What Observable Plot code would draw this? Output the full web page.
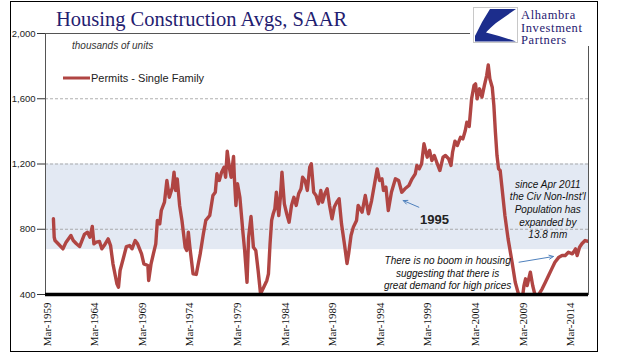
<!DOCTYPE html>
<html><head><meta charset="utf-8">
<script src="https://cdn.jsdelivr.net/npm/d3@7"></script>
<script src="https://cdn.jsdelivr.net/npm/@observablehq/plot@0.6"></script>
<style>
body{margin:0;background:#fff;}
#wrap{position:relative;width:618px;height:361px;overflow:hidden;background:#fff;}
#wrap > svg{position:absolute;left:0;top:0;}
#overlay{pointer-events:none;}
</style>
</head><body>
<div id="wrap">
<svg id="overlay" width="618" height="361" style="z-index:2">
  <rect x="10.5" y="1.5" width="587" height="350" fill="none" stroke="#000" stroke-width="1"/>
  <rect x="470" y="3" width="126" height="43" fill="#fff"/>
  <rect x="473.5" y="7.5" width="44" height="35" fill="#fff" stroke="#c8c8c8" stroke-width="1"/>
  <path d="M490,9 L516,9 L496,23 Q489,29 486,32.5 Q500,36 516,41.5 L475,41.5 L475,36 Q482,21 490,9 Z" fill="#1c2d8c"/>
  <text x="521" y="19" font-family="Liberation Serif, serif" font-size="12.5" letter-spacing="0.6" fill="#1f2070">Alhambra</text>
  <text x="521" y="31.5" font-family="Liberation Serif, serif" font-size="12.5" letter-spacing="0.6" fill="#1f2070">Investment</text>
  <text x="521" y="44" font-family="Liberation Serif, serif" font-size="12.5" letter-spacing="0.6" fill="#1f2070">Partners</text>
  <text x="56" y="26" font-family="Liberation Serif, serif" font-size="20.5" fill="#1f2070">Housing Construction Avgs, SAAR</text>
  <text x="72" y="48.5" font-family="Liberation Sans, Arial, sans-serif" font-style="italic" font-size="10" fill="#333">thousands of units</text>
  <line x1="63" x2="90" y1="78" y2="78" stroke="#b04543" stroke-width="3"/>
  <text x="91" y="82" font-family="Liberation Sans, Arial, sans-serif" font-size="11" fill="#222">Permits - Single Family</text>
</svg>
</div>
<script>
const months = ["1959-11","1959-12","1960-01","1960-05","1960-11","1961-03","1961-09","1961-12","1962-04","1962-08","1963-02","1963-06","1963-09","1963-12","1964-02","1964-05","1964-09","1964-12","1965-03","1965-08","1965-11","1966-02","1966-07","1966-09","1966-11","1967-03","1967-07","1967-11","1968-02","1968-06","1968-09","1969-02","1969-05","1969-10","1969-11","1970-02","1970-05","1970-08","1970-10","1971-01","1971-03","1971-07","1971-10","1972-01","1972-03","1972-05","1972-07","1972-09","1972-11","1973-02","1973-05","1973-09","1973-11","1974-01","1974-03","1974-07","1974-11","1975-04","1975-08","1975-11","1976-04","1976-08","1976-11","1977-01","1977-04","1977-07","1977-10","1977-12","1978-02","1978-05","1978-07","1978-10","1978-11","1979-01","1979-03","1979-06","1979-10","1979-12","1980-03","1980-05","1980-08","1980-11","1981-02","1981-05","1981-08","1981-12","1982-04","1982-06","1982-08","1982-10","1982-12","1983-02","1983-04","1983-07","1983-09","1983-11","1984-02","1984-05","1984-08","1984-11","1985-02","1985-05","1985-08","1985-11","1986-01","1986-04","1986-07","1986-10","1986-12","1987-03","1987-06","1987-09","1987-12","1988-02","1988-05","1988-08","1988-11","1989-02","1989-05","1989-08","1989-11","1990-02","1990-06","1990-09","1990-11","1991-02","1991-05","1991-09","1991-11","1992-04","1992-08","1992-12","1993-04","1993-11","1994-02","1994-05","1994-07","1994-10","1995-01","1995-05","1995-10","1996-02","1996-06","1996-10","1997-03","1997-07","1997-11","1998-01","1998-04","1998-07","1998-10","1999-02","1999-05","1999-08","1999-11","2000-02","2000-06","2000-10","2001-01","2001-05","2001-08","2001-10","2002-01","2002-04","2002-08","2002-11","2003-02","2003-04","2003-07","2003-10","2004-01","2004-03","2004-05","2004-08","2004-11","2005-02","2005-05","2005-07","2005-09","2005-12","2006-02","2006-04","2006-06","2006-08","2006-10","2006-12","2007-04","2007-08","2008-01","2008-05","2008-09","2008-12","2009-02","2009-04","2009-06","2009-08","2009-12","2010-03","2010-06","2010-10","2011-03","2011-07","2011-11","2012-03","2012-07","2012-12","2013-04","2013-08","2013-12","2014-05","2014-09","2014-11","2015-02","2015-05","2015-09","2016-01"];
const permits = [864,751,731,711,680,721,762,731,711,694,768,782,751,817,711,721,725,680,700,741,700,588,466,445,547,619,694,700,680,731,711,649,588,578,486,588,649,711,854,833,915,966,1099,996,1027,1058,1150,1038,1109,946,854,690,670,782,690,527,523,649,772,854,884,1007,1027,1140,1099,1150,1180,1119,1279,1170,1119,1246,1119,946,1079,996,772,670,475,751,878,690,670,547,404,445,486,527,711,854,895,925,1027,884,996,1150,956,895,843,946,996,946,1017,1048,1119,1099,1038,1180,1201,1027,1007,956,1038,966,1017,1048,946,864,936,966,987,833,700,590,650,762,813,854,946,905,1007,895,976,1170,1099,1109,1038,1058,915,1027,1109,1099,1027,1048,1068,1109,1140,1191,1170,1201,1324,1242,1283,1221,1252,1211,1160,1242,1252,1232,1191,1272,1340,1313,1364,1354,1405,1456,1430,1600,1681,1691,1600,1661,1610,1681,1742,1807,1722,1671,1559,1395,1252,1170,1160,1068,884,741,598,475,404,370,380,455,496,455,537,455,395,395,435,475,516,557,598,629,639,639,659,649,680,639,690,711,731,725];
const yTicks = [400, 800, 1200, 1600, 2000];
const gridValues = [800, 1200, 1600];
const band = [675, 1200];
const xTickYears = [1959, 1964, 1969, 1974, 1979, 1984, 1989, 1994, 1999, 2004, 2009, 2014];
const xTickLabels = ["Mar-1959","Mar-1964","Mar-1969","Mar-1974","Mar-1979","Mar-1984","Mar-1989","Mar-1994","Mar-1999","Mar-2004","Mar-2009","Mar-2014"];
const notes = [
  {date: "2011-10-01", value: 925, text: "since Apr 2011\nthe Civ Non-Inst'l\nPopulation has\nexpanded by\n13.8 mm"},
  {date: "2001-03-25", value: 535, text: "There is no boom in housing\nsuggesting that there is\ngreat demand for high prices"}
];
const bold = [{date: "1999-11-10", value: 860, text: "1995"}];
const arrows = [
  {from: "1998-03-17", v1: 935, to: "1996-07-26", v2: 976},
  {from: "2008-09-24", v1: 598, to: "2012-05-04", v2: 633}
];

const parseM = d3.utcParse("%Y-%m");
const parseD = d3.utcParse("%Y-%m-%d");
const data = months.map((m, i) => ({date: parseM(m), value: permits[i]}));
const xDomain = [new Date(Date.UTC(1959, 0, 1)), new Date(Date.UTC(2016, 0, 10))];
const xTickDates = xTickYears.map(y => new Date(Date.UTC(y, 2, 1)));
const labelByYear = new Map(xTickYears.map((y, i) => [y, xTickLabels[i]]));
const noteRows = notes.map(d => ({...d, date: parseD(d.date)}));
const boldRows = bold.map(d => ({...d, date: parseD(d.date)}));
const arrowRows = arrows.map(d => ({x1: parseD(d.from), y1: d.v1, x2: parseD(d.to), y2: d.v2}));

const chart = Plot.plot({
  width: 618, height: 361,
  marginLeft: 45, marginRight: 30, marginTop: 33, marginBottom: 67,
  style: {fontFamily: "Liberation Sans, Arial, sans-serif", fontSize: "9.5px", background: "transparent", color: "#222"},
  x: {type: "utc", domain: xDomain},
  y: {domain: [400, 2000]},
  marks: [
    Plot.rect([band], {x1: () => xDomain[0], x2: () => xDomain[1], y1: d => d[0], y2: d => d[1], fill: "#e3e9f3"}),
    Plot.ruleY(gridValues, {stroke: "#9a9a9a", strokeDasharray: "3,2", strokeWidth: 0.8}),
    Plot.frame({stroke: "#555"}),
    Plot.axisY({ticks: yTicks, tickFormat: d3.format(","), tickSize: 8, tickPadding: 2, fontSize: 9.5, label: null, stroke: "#333", fill: "#222"}),
    Plot.axisX({ticks: xTickDates, tickFormat: d => labelByYear.get(d.getUTCFullYear()), tickRotate: -90, tickSize: 0, tickPadding: 8, fontSize: 11, fontFamily: "Liberation Serif, serif", label: null, fill: "#111"}),
    Plot.line(data, {x: "date", y: "value", stroke: "#b04543", strokeWidth: 3.4, strokeLinejoin: "round", clip: true}),
    Plot.ruleY([400], {stroke: "#000", strokeWidth: 3.5}),
    Plot.arrow(arrowRows, {x1: "x1", y1: "y1", x2: "x2", y2: "y2", stroke: "#4f81bd", strokeWidth: 1, headLength: 7, headAngle: 50}),
    Plot.text(noteRows, {x: "date", y: "value", text: "text", fontStyle: "italic", fontSize: 10, lineHeight: 1.27, fill: "#111"}),
    Plot.text(boldRows, {x: "date", y: "value", text: "text", fontWeight: "bold", fontSize: 13, fill: "#222"})
  ]
});
chart.style.zIndex = 1;
document.getElementById("wrap").insertBefore(chart, document.getElementById("overlay"));
</script>
</body></html>
